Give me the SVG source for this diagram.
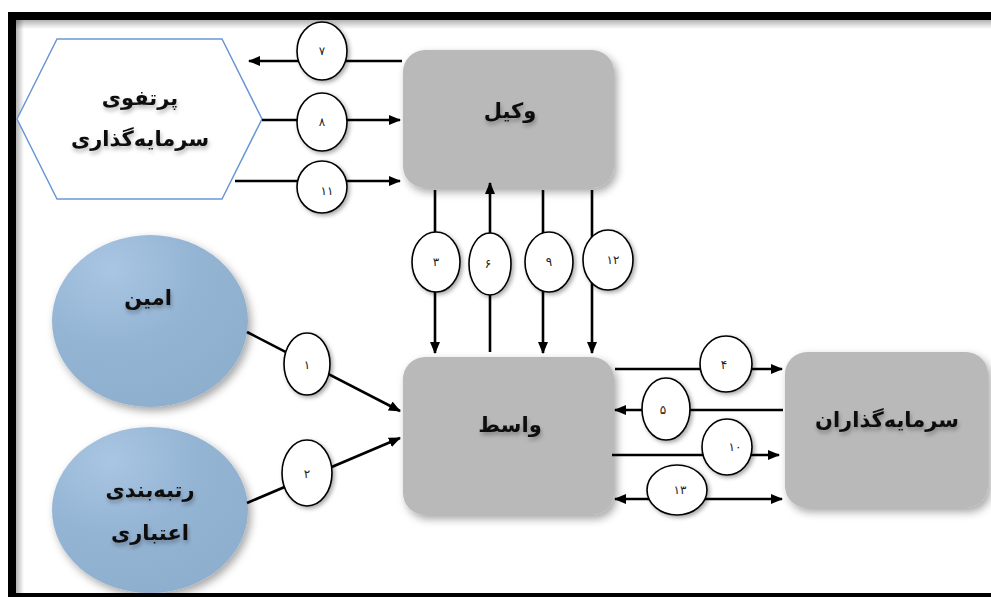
<svg xmlns="http://www.w3.org/2000/svg" width="991" height="597" viewBox="0 0 991 597">
<defs>
<style>
.box{fill:#b9b9b9;filter:url(#sh);}
.ell{fill:url(#eg);filter:url(#sh);}
.lbl{font-family:"DejaVu Sans",sans-serif;font-weight:bold;font-size:21px;fill:#111;text-anchor:middle;filter:url(#tsh);}
.ln{stroke:#000;stroke-width:2.6;fill:none;}
.num{fill:#fff;stroke:#000;stroke-width:1.6;filter:url(#csh);}
.nt{font-family:"DejaVu Sans",sans-serif;font-size:12px;fill:#222;text-anchor:middle;}
</style>
<filter id="sh" x="-20%" y="-20%" width="150%" height="150%">
<feDropShadow dx="3" dy="4" stdDeviation="4" flood-color="#000" flood-opacity="0.35"/>
</filter>
<filter id="csh" x="-30%" y="-30%" width="170%" height="170%">
<feDropShadow dx="2" dy="2" stdDeviation="2" flood-color="#000" flood-opacity="0.35"/>
</filter>
<filter id="tsh" x="-20%" y="-40%" width="140%" height="190%">
<feDropShadow dx="1" dy="3" stdDeviation="2" flood-color="#000" flood-opacity="0.3"/>
</filter>
<radialGradient id="eg" cx="0.3" cy="0.2" r="0.9">
<stop offset="0" stop-color="#a9c6e3"/>
<stop offset="0.5" stop-color="#94b4d4"/>
<stop offset="1" stop-color="#8eaecd"/>
</radialGradient>
<linearGradient id="tg" x1="0" y1="0" x2="0" y2="1">
<stop offset="0" stop-color="#000" stop-opacity="0.3"/>
<stop offset="1" stop-color="#000" stop-opacity="0"/>
</linearGradient>
<linearGradient id="lg" x1="0" y1="0" x2="1" y2="0">
<stop offset="0" stop-color="#000" stop-opacity="0.3"/>
<stop offset="1" stop-color="#000" stop-opacity="0"/>
</linearGradient>
<marker id="ah" viewBox="0 0 12 10" refX="11" refY="5" markerWidth="12" markerHeight="10" markerUnits="userSpaceOnUse" orient="auto-start-reverse">
<path d="M0,0 L12,5 L0,10 Z" fill="#000"/>
</marker>
</defs>
<rect x="0" y="0" width="991" height="597" fill="#fff"/>
<g id="frame">
<rect x="16" y="20" width="975" height="9" fill="url(#tg)"/>
<rect x="16" y="20" width="8" height="573" fill="url(#lg)"/>
<rect x="12" y="16" width="1000" height="581" fill="none" stroke="#000" stroke-width="8"/>
</g>
<g id="portfolio">
<polygon points="17,119 57,39 222,39 262,119 222,199 57,199" fill="#fff" stroke="#6b97d6" stroke-width="1.5"/>
<text class="lbl" x="140" y="105">پرتفوی</text>
<text class="lbl" x="140" y="146">سرمایه&#8204;گذاری</text>
</g>
<g id="vakil">
<rect class="box" x="403" y="50" width="211" height="138" rx="22"/>
<text class="lbl" x="510" y="118">وکیل</text>
</g>
<g id="vaset">
<rect class="box" x="403" y="357" width="211" height="158" rx="22"/>
<text class="lbl" x="510" y="432">واسط</text>
</g>
<g id="investors">
<rect class="box" x="785" y="352" width="203" height="156" rx="22"/>
<text class="lbl" x="887" y="427">سرمایه&#8204;گذاران</text>
</g>
<g id="amin">
<ellipse class="ell" cx="150" cy="321" rx="98" ry="86"/>
<text class="lbl" x="148" y="305">امین</text>
</g>
<g id="rating">
<ellipse class="ell" cx="150" cy="510" rx="98" ry="83"/>
<text class="lbl" x="150" y="497">رتبه&#8204;بندی</text>
<text class="lbl" x="150" y="540">اعتباری</text>
</g>
<g id="connectors">
<line class="ln" x1="402" y1="61" x2="249" y2="61" marker-end="url(#ah)"/>
<line class="ln" x1="262" y1="120" x2="400" y2="120" marker-end="url(#ah)"/>
<line class="ln" x1="235" y1="181" x2="400" y2="181" marker-end="url(#ah)"/>
<line class="ln" x1="435" y1="190" x2="435" y2="353" marker-end="url(#ah)"/>
<line class="ln" x1="490" y1="352" x2="490" y2="183" marker-end="url(#ah)"/>
<line class="ln" x1="543" y1="190" x2="543" y2="353" marker-end="url(#ah)"/>
<line class="ln" x1="592" y1="190" x2="592" y2="353" marker-end="url(#ah)"/>
<line class="ln" x1="247" y1="332" x2="400" y2="411" marker-end="url(#ah)"/>
<line class="ln" x1="247" y1="503" x2="400" y2="438" marker-end="url(#ah)"/>
<line class="ln" x1="615" y1="369" x2="782" y2="369" marker-end="url(#ah)"/>
<line class="ln" x1="783" y1="410" x2="615" y2="410" marker-end="url(#ah)"/>
<line class="ln" x1="612" y1="455" x2="779" y2="455" marker-end="url(#ah)"/>
<line class="ln" x1="615" y1="499" x2="782" y2="499" marker-start="url(#ah)" marker-end="url(#ah)"/>
<ellipse class="num" cx="322" cy="51" rx="25" ry="29"/>
<text class="nt" x="322" y="55">۷</text>
<ellipse class="num" cx="322" cy="122" rx="25" ry="29"/>
<text class="nt" x="322" y="126">۸</text>
<ellipse class="num" cx="322" cy="187" rx="25" ry="26"/>
<text class="nt" x="327" y="195">۱۱</text>
<ellipse class="num" cx="436" cy="262" rx="24" ry="30"/>
<text class="nt" x="436" y="266">۳</text>
<ellipse class="num" cx="490" cy="264" rx="21" ry="31"/>
<text class="nt" x="488" y="268">۶</text>
<ellipse class="num" cx="549" cy="262" rx="24" ry="30"/>
<text class="nt" x="549" y="266">۹</text>
<ellipse class="num" cx="608" cy="260" rx="25" ry="30"/>
<text class="nt" x="613" y="264">۱۲</text>
<ellipse class="num" cx="307" cy="364" rx="23" ry="31"/>
<text class="nt" x="307" y="369">۱</text>
<ellipse class="num" cx="307" cy="473" rx="25" ry="33"/>
<text class="nt" x="307" y="478">۲</text>
<ellipse class="num" cx="726" cy="364" rx="26" ry="28"/>
<text class="nt" x="724" y="369">۴</text>
<ellipse class="num" cx="666" cy="409" rx="24" ry="31"/>
<text class="nt" x="663" y="414">۵</text>
<ellipse class="num" cx="727" cy="447" rx="25" ry="28"/>
<text class="nt" x="735" y="451">۱۰</text>
<ellipse class="num" cx="677" cy="490" rx="30" ry="25"/>
<text class="nt" x="680" y="494">۱۳</text>
</g>
</svg>
